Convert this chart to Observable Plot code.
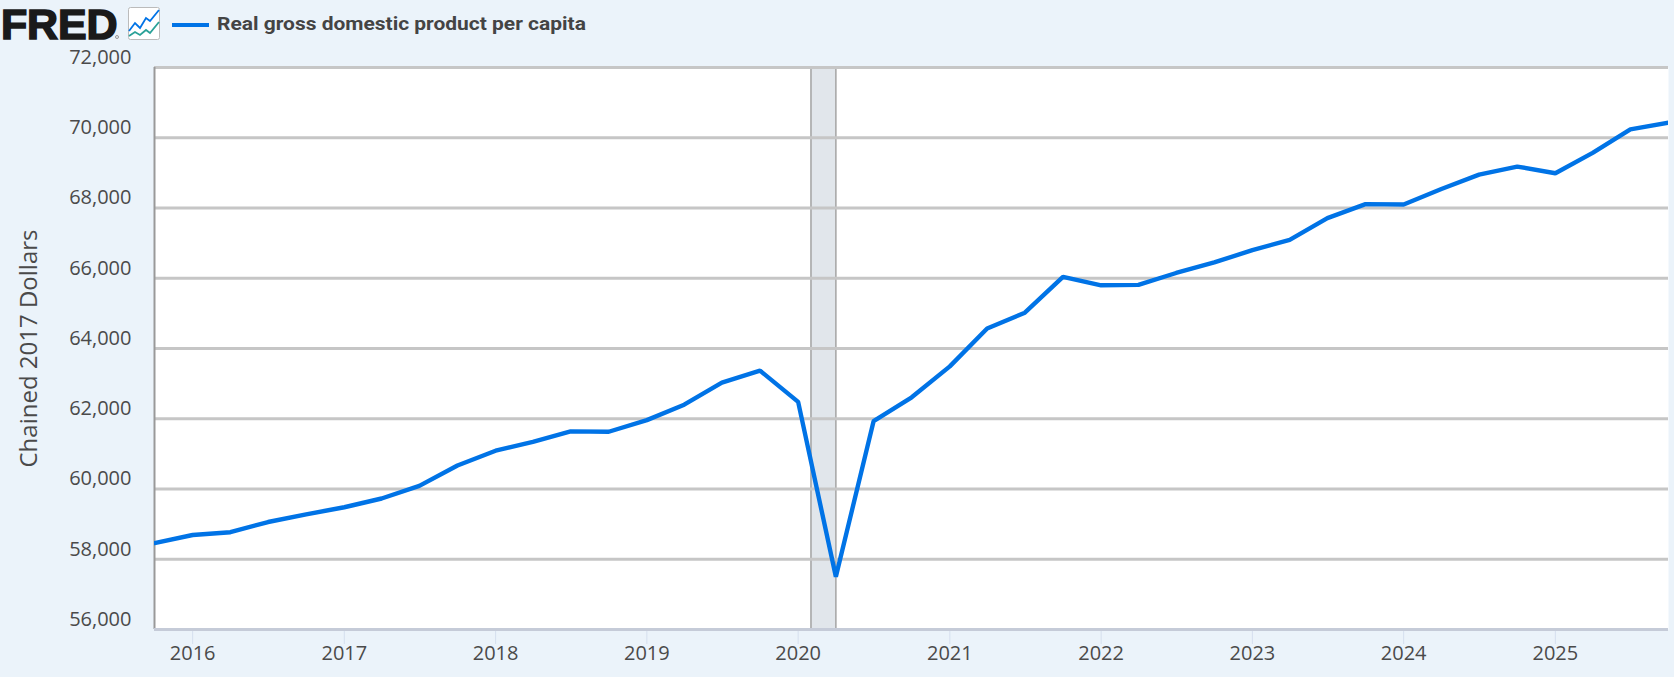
<!DOCTYPE html>
<html>
<head>
<meta charset="utf-8">
<script src="https://cdn.jsdelivr.net/npm/d3@7"></script>
<script src="https://cdn.jsdelivr.net/npm/@observablehq/plot@0.6"></script>
<style>
html,body{margin:0;padding:0;background:#ebf3fa;overflow:hidden}
#wrap{width:1674px;height:677px;position:relative}
#head{height:48px;position:relative}
#fred{position:absolute;left:1px;top:4px;font:bold 43px "Liberation Sans";color:#1a1a1a;-webkit-text-stroke:1.6px #1a1a1a;letter-spacing:-.2px;line-height:40px;height:40px}
#reg{position:absolute;left:115px;top:35px;width:4px;height:4px;border:1px solid #999;border-radius:50%;box-sizing:border-box}
#icon{position:absolute;left:128px;top:7px}
#swatch{position:absolute;left:172px;top:22.5px;width:37px;height:4.5px;background:#0073e6}
#name{position:absolute;left:217px;top:10px;font:bold 18.4px Roboto;color:#444;line-height:28px;transform-origin:0 50%;transform:scaleX(1.14);white-space:nowrap}
svg.plot{display:block}
</style>
</head>
<body>
<div id="wrap">
<div id="head">
<div id="fred">FRED</div><div id="reg"></div>
<svg id="icon" width="33" height="34" viewBox="0 0 33 34"><rect x=".5" y=".5" width="31" height="32" rx="2" fill="#fff" stroke="#bbb"/><polyline points="1,24 7,16 12,21 18,11 22,14 31,3" fill="none" stroke="#0073e6" stroke-width="1.8"/><polyline points="1,29 7,25 12,28 18,23 22,26 31,15" fill="none" stroke="#2aa198" stroke-width="1.8"/></svg>
<div id="swatch"></div>
<div id="name">Real gross domestic product per capita</div>
</div>
<div id="chart"></div>
</div>
<script>
const quarters = ["2015-10-01","2016-01-01","2016-04-01","2016-07-01","2016-10-01","2017-01-01","2017-04-01","2017-07-01","2017-10-01","2018-01-01","2018-04-01","2018-07-01","2018-10-01","2019-01-01","2019-04-01","2019-07-01","2019-10-01","2020-01-01","2020-04-01","2020-07-01","2020-10-01","2021-01-01","2021-04-01","2021-07-01","2021-10-01","2022-01-01","2022-04-01","2022-07-01","2022-10-01","2023-01-01","2023-04-01","2023-07-01","2023-10-01","2024-01-01","2024-04-01","2024-07-01","2024-10-01","2025-01-01","2025-04-01","2025-07-01","2025-10-01"];
const gdpPerCapita = [58460,58690,58770,59060,59280,59480,59730,60090,60670,61090,61340,61640,61630,61960,62400,63030,63370,62480,57500,61930,62610,63490,64570,65020,66040,65800,65810,66150,66450,66800,67090,67710,68110,68100,68540,68950,69180,68990,69570,70240,70430];
const yTicks = [56000,58000,60000,62000,64000,66000,68000,70000,72000];
const yearTicks = ["2016","2017","2018","2019","2020","2021","2022","2023","2024","2025"];
const recession = [{start:"2020-02-01",end:"2020-04-01"}];

const parse = d3.utcParse("%Y-%m-%d");
const rows = quarters.map((q,i)=>({date:parse(q),value:gdpPerCapita[i]}));
const rec = recession.map(r=>({start:parse(r.start),end:parse(r.end)}));
const xDates = yearTicks.map(y=>parse(y+"-01-01"));
const fmt = d3.format(",");

const chart = Plot.plot({
  width:1674,height:629,
  marginTop:19,marginBottom:48,marginLeft:154,marginRight:6,
  style:{background:"transparent",fontFamily:"'Open Sans'",fontSize:"20px",color:"#444",overflow:"visible"},
  x:{type:"utc",domain:[parse(quarters[0]),parse(quarters[quarters.length-1])]},
  y:{domain:[56000,72000]},
  marks:[
    Plot.frame({fill:"#fff",stroke:"none"}),
    Plot.rectY(rec,{x1:"start",x2:"end",y1:56000,y2:72000,fill:"#e1e6eb"}),
    Plot.ruleX(rec.flatMap(r=>[r.start,r.end]),{stroke:"#a8a8a8",strokeWidth:1.6}),
    Plot.ruleY(yTicks,{stroke:"#c6c6c6",strokeWidth:3,strokeOpacity:1}),
    Plot.ruleX([parse(quarters[0])],{stroke:"#999",strokeWidth:2}),
    Plot.axisX(xDates,{tickFormat:d3.utcFormat("%Y"),tickSize:15,tickPadding:1,stroke:"#d5dfee",fill:"#4a4a4a",fontSize:20,label:null}),
    Plot.ruleY([56000],{stroke:"#c5cbd8",strokeWidth:3}),
    Plot.axisY(yTicks,{tickFormat:fmt,tickSize:0,tickPadding:23,dy:-10,fill:"#4a4a4a",fontSize:20,label:null}),
    Plot.axisY({ticks:[],label:"Chained 2017 Dollars",labelAnchor:"center",labelArrow:"none",labelOffset:135,fontSize:24,fill:"#4a4a4a"}),
    Plot.line(rows,{x:"date",y:"value",stroke:"#0073e6",strokeWidth:4.4,strokeLinejoin:"miter",clip:"frame"})
  ]
});
document.getElementById("chart").appendChild(chart);
</script>
</body>
</html>
